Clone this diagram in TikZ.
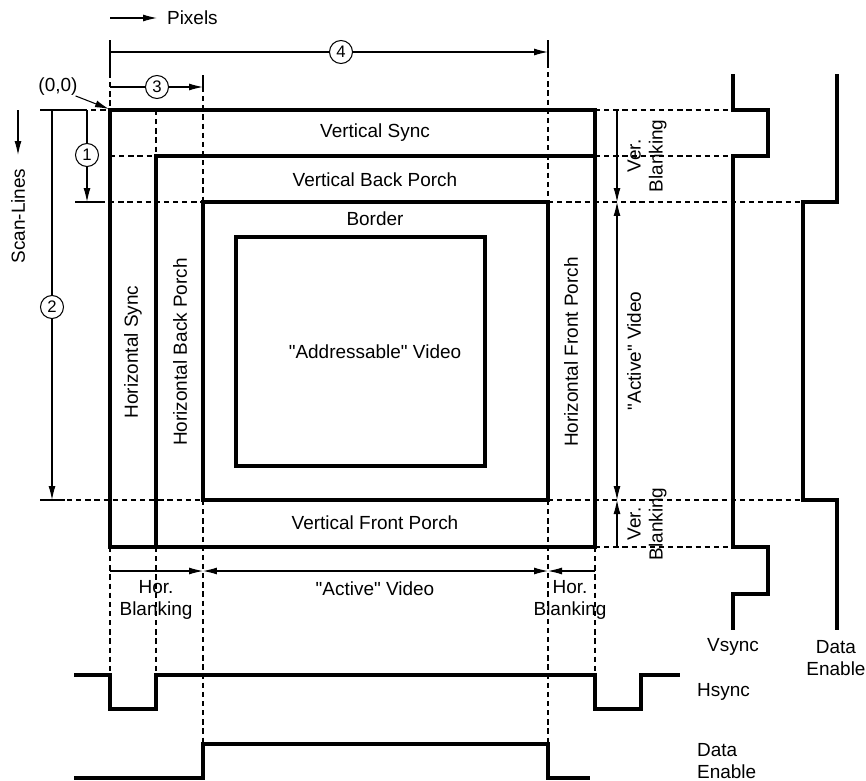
\documentclass[tikz,border=0pt]{standalone}
\usepackage{fontspec}
\setmainfont{Liberation Sans}
\usetikzlibrary{arrows.meta}

\tikzset{
  heavy/.style={line width=1.8pt},
  thin line/.style={line width=0.6pt},
  guide/.style={line width=0.6pt, dash pattern=on 3pt off 2.2pt},
  dim/.style={line width=0.6pt, -{Latex[length=2.8mm,width=1.4mm]}},
  twodim/.style={line width=0.6pt, {Latex[length=2.8mm,width=1.4mm]}-{Latex[length=2.8mm,width=1.4mm]}},
  num/.style={circle, draw, line width=0.6pt, fill=white, inner sep=0pt,
    minimum size=4.6mm, font=\fontsize{9.5}{10}\selectfont},
  lbl/.style={font=\fontsize{10.8}{12.5}\selectfont, align=center, inner sep=1pt},
}

\begin{document}
\begin{tikzpicture}[x=0.02cm,y=-0.02cm]
  \useasboundingbox (0,0) rectangle (866,781);

  % frame of the screen
  \draw[heavy] (110,110) rectangle (595,547);
  \draw[heavy] (156,547) -- (156,156) -- (595,156);
  \draw[heavy] (203,202) rectangle (548,500);
  \draw[heavy] (236,237) rectangle (485,466);

  \node[lbl] (vsync) at (375,133) {Vertical Sync};
  \node[lbl] (vbp) at (375,180) {Vertical Back Porch};
  \node[lbl] (border) at (375,219) {Border};
  \node[lbl] (addr) at (375,352) {\textquotedbl Addressable\textquotedbl\ Video};
  \node[lbl] (vfp) at (375,523) {Vertical Front Porch};
  \node[lbl,rotate=90] (hsync) at (133,352) {Horizontal Sync};
  \node[lbl,rotate=90] (hbp) at (180,352) {Horizontal Back Porch};
  \node[lbl,rotate=90] (hfp) at (571,352) {Horizontal Front Porch};

  % extension lines
  \draw[thin line] (110,40) -- (110,73);
  \draw[guide] (110,73) -- (110,110);
  \draw[thin line] (40,110) -- (82,110);
  \draw[guide] (82,110) -- (110,110);
  \draw[thin line] (203,75) -- (203,87);
  \draw[guide] (203,87) -- (203,202);
  \draw[thin line] (548,40) -- (548,63);
  \draw[guide] (548,63) -- (548,202);
  \draw[guide] (156,110) -- (156,156);
  \draw[guide] (110,156) -- (156,156);
  \draw[thin line] (75,202) -- (100,202);
  \draw[guide] (100,202) -- (203,202);
  \draw[thin line] (40,500) -- (65,500);
  \draw[guide] (67,500) -- (203,500);
  \draw[guide] (110,547) -- (110,675);
  \draw[guide] (156,547) -- (156,675);
  \draw[guide] (203,500) -- (203,744);
  \draw[guide] (548,500) -- (548,778);
  \draw[guide] (595,547) -- (595,675);
  \draw[guide] (595,110) -- (733,110);
  \draw[guide] (595,156) -- (733,156);
  \draw[guide] (548,202) -- (803,202);
  \draw[guide] (548,500) -- (803,500);
  \draw[guide] (595,547) -- (733,547);

  % directions and origin
  \draw[dim] (110,18) -- (157,18);
  \node[lbl,anchor=west] (pixels) at (165,18) {Pixels};
  \draw[dim] (18,110) -- (18,155);
  \node[lbl,rotate=90] (scan) at (18,216) {Scan-Lines};
  \node[lbl] (origin) at (58,87) {(0,0)};
  \coordinate (corner) at (109,109);
  \draw[dim] (origin.south east) ++(-4,-2) -- (corner);

  % numbered dimensions
  \draw[dim] (110,87) -- (203,87);
  \node[num] (n3) at (157,87) {3};
  \draw[dim] (110,52) -- (548,52);
  \node[num] (n4) at (341,52) {4};
  \draw[dim] (87,110) -- (87,202);
  \node[num] (n1) at (87,155) {1};
  \draw[dim] (52,110) -- (52,500);
  \node[num] (n2) at (52,307) {2};

  % vertical timing
  \draw[dim] (617,110) -- (617,202);
  \draw[twodim] (617,202) -- (617,500);
  \draw[dim] (617,547) -- (617,500);
  \node[lbl,rotate=90] (vbtop) at (647,156) {Ver.\\Blanking};
  \node[lbl,rotate=90] (vact) at (634,351) {\textquotedbl Active\textquotedbl\ Video};
  \node[lbl,rotate=90] (vbbot) at (647,524) {Ver.\\Blanking};

  % horizontal timing
  \draw[dim] (110,571) -- (203,571);
  \draw[twodim] (203,571) -- (548,571);
  \draw[dim] (595,571) -- (548,571);
  \node[lbl] (hbleft) at (156,600) {Hor.\\Blanking};
  \node[lbl] (hact) at (375,589) {\textquotedbl Active\textquotedbl\ Video};
  \node[lbl] (hbright) at (570,600) {Hor.\\Blanking};

  % waveforms
  \draw[heavy] (74,675) -- (110,675) -- (110,709) -- (156,709) -- (156,675)
    -- (595,675) -- (595,709) -- (641,709) -- (641,675) -- (680,675);
  \draw[heavy] (74,778) -- (203,778) -- (203,744) -- (548,744) -- (548,778) -- (590,778);
  \draw[heavy] (733,74) -- (733,110) -- (768,110) -- (768,156) -- (733,156)
    -- (733,547) -- (768,547) -- (768,594) -- (733,594) -- (733,630);
  \draw[heavy] (837,74) -- (837,202) -- (803,202) -- (803,500) -- (837,500) -- (837,630);

  \node[lbl] (vsynclbl) at (733,647) {Vsync};
  \node[lbl] (devlbl) at (836,658) {Data\\Enable};
  \node[lbl,anchor=west] (hsynclbl) at (695,692) {Hsync};
  \node[lbl,anchor=west,align=left] (dehlbl) at (695,761) {Data\\Enable};
\end{tikzpicture}
\end{document}
